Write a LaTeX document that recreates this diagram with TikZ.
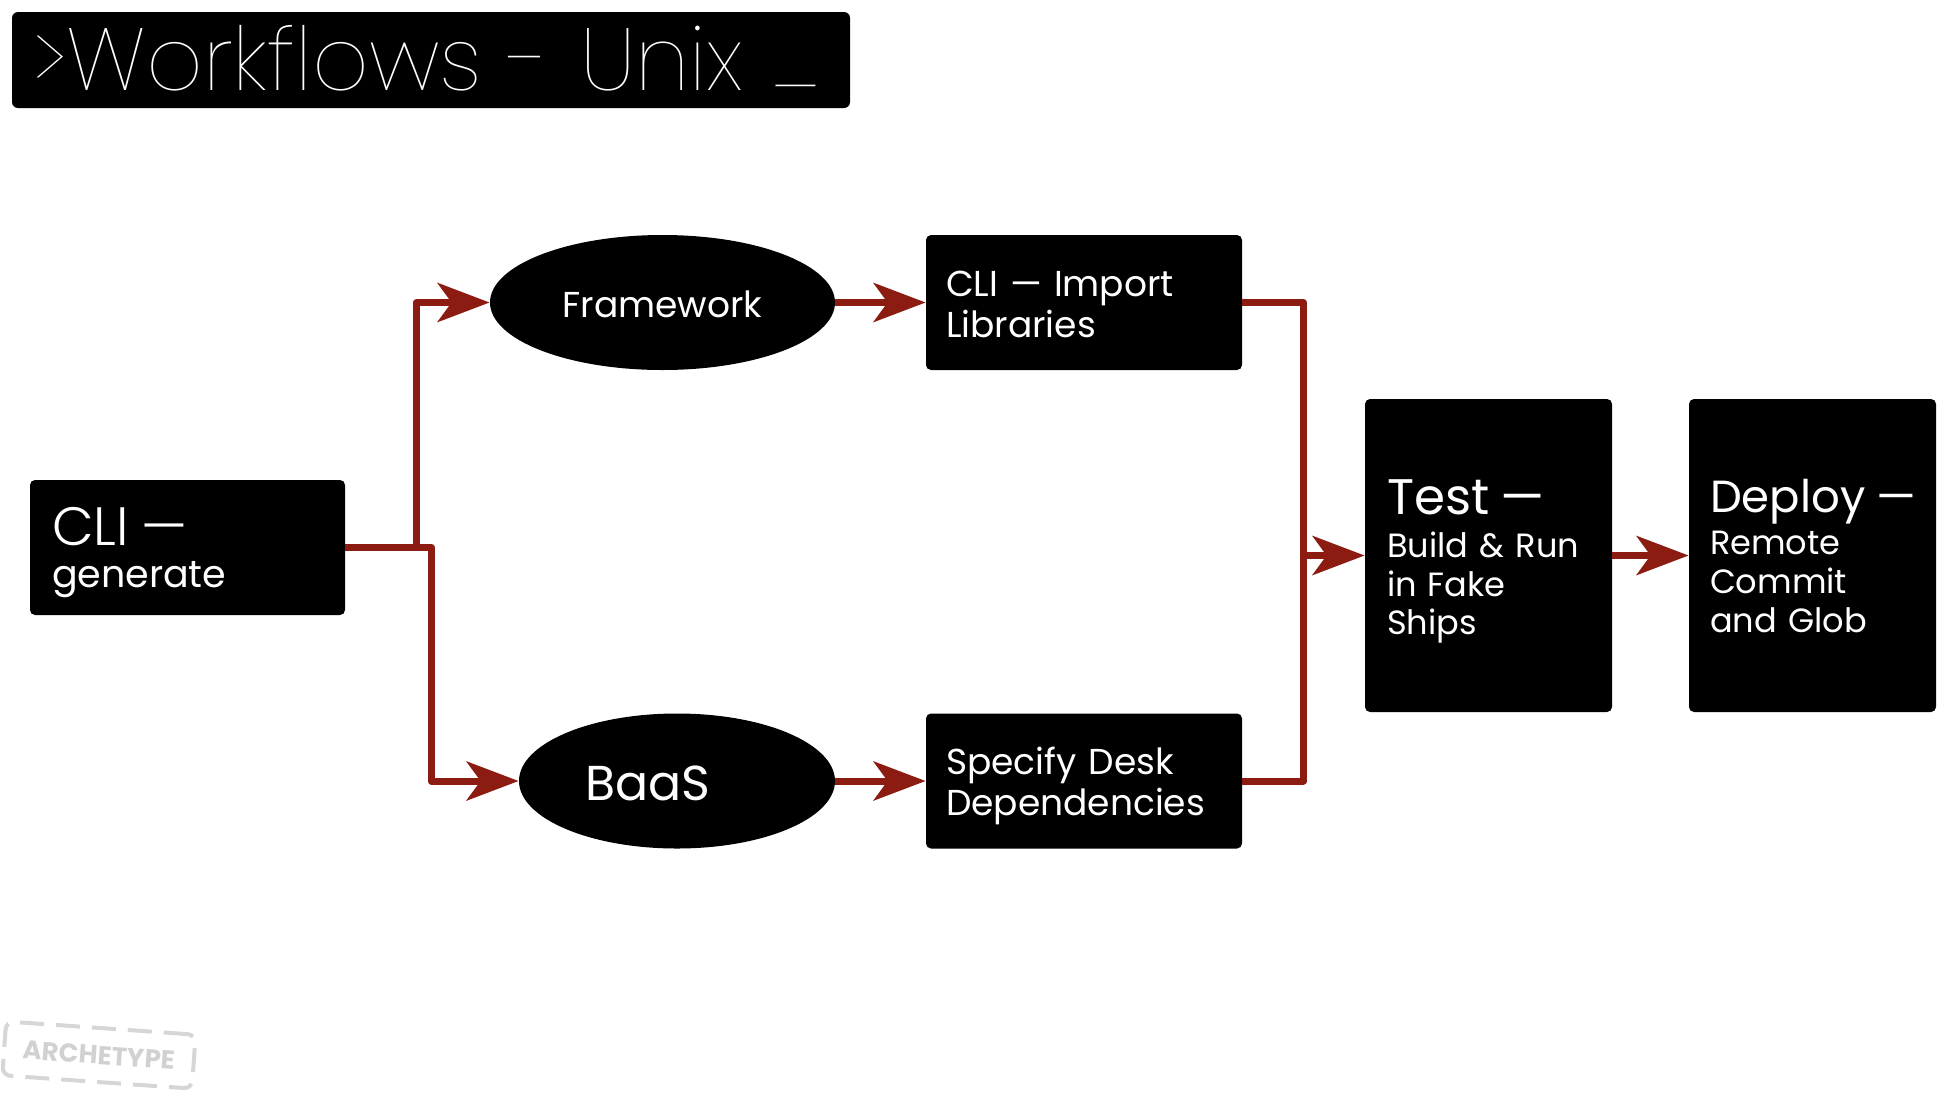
\documentclass[tikz,border=0pt]{standalone}
\usepackage{fontspec}
\setmainfont{Poppins}
\newfontfamily\titlefont{Poppins Thin}
\newfontfamily\lightfont{Poppins Light}
\usetikzlibrary{shapes.geometric,arrows.meta}
\definecolor{conred}{RGB}{140,27,18}
\begin{document}
\begin{tikzpicture}[x=0.5pt,y=-0.5pt,
  blk/.style={fill=black, text=white, inner sep=0pt},
  box/.style={blk, rectangle, rounded corners=2.5pt, align=left, text height=10pt},
  oval/.style={blk, ellipse, minimum height=67.5pt, text depth=0pt},
  conn/.style={draw=conred, line width=3.5pt, line join=round,
    -{Stealth[length=26pt, width=19.5pt, inset=7pt]}},
  plain/.style={draw=conred, line width=3.5pt, line join=round},
  wm/.style={draw=black!16, line width=2pt, dash pattern=on 12pt off 6pt,
    rounded corners=4pt, text=black!18, font=\bfseries\fontsize{13}{13}\selectfont,
    minimum width=95pt, minimum height=27pt, inner sep=0pt}
]
\useasboundingbox (0,0) rectangle (1958,1098);

% title
\node[blk, rectangle, rounded corners=3pt, align=left, minimum width=419pt, minimum height=48pt,
  text width=398pt, text height=30.5pt, text depth=0pt,
  font=\titlefont\fontsize{44}{44}\selectfont]
  (title) at (431,60) {\mbox{>Workflows - Unix \raisebox{4pt}{\_}}};

% boxes
\node[box, minimum width=157.5pt, minimum height=67.5pt, text width=135.5pt,
  text depth=12.5pt, font=\fontsize{19}{21.25}\selectfont]
  (cli) at (187.5,547.5) {\mbox{\lightfont\fontsize{27}{21.25}\selectfont CLI —}\\\mbox{generate}};

\node[oval, minimum width=172.5pt, text height=15pt, font=\fontsize{18}{18}\selectfont]
  (fw) at (662.5,302.5) {Framework};
\node[oval, minimum width=158pt, text height=19pt, font=\fontsize{24.5}{24.5}\selectfont]
  (baas) at (677,781) {BaaS\kern29pt\mbox{}};

\node[box, minimum width=158pt, minimum height=67.5pt, text width=138pt,
  text depth=16.5pt, font=\fontsize{18}{20.75}\selectfont]
  (imp) at (1084,302.5) {\mbox{CLI — Import}\\\mbox{Libraries}};
\node[box, minimum width=158pt, minimum height=67.5pt, text width=138pt,
  text depth=17pt, font=\fontsize{18}{20.5}\selectfont]
  (spec) at (1084,781) {\mbox{Specify Desk}\\\mbox{Dependencies}};

\node[box, minimum width=123.5pt, minimum height=156.5pt, text width=101.5pt,
  text depth=51.5pt, font=\fontsize{16.8}{19.25}\selectfont]
  (test) at (1488.5,555.5) {\mbox{\fontsize{25}{19.25}\selectfont Test —}\\[2.5pt]\mbox{Build \& Run}\\\mbox{in Fake}\\\mbox{Ships}};
\node[box, minimum width=123.5pt, minimum height=156.5pt, text width=102.5pt,
  text depth=53pt, font=\fontsize{16.8}{19.4}\selectfont]
  (dep) at (1812.5,555.5) {\mbox{\fontsize{22.5}{19.4}\selectfont Deploy —}\\[1.8pt]\mbox{Remote}\\\mbox{Commit}\\\mbox{and Glob}};

% connectors
\draw[conn] (cli.east) -- ++(71,0) |- (fw.west);
\draw[conn] (cli.east) -- ++(86,0) |- (baas.west);
\draw[conn] (fw.east) -- (imp.west);
\draw[conn] (baas.east) -- (spec.west);
\draw[plain] (imp.east) -- ++(61,0) coordinate (mtop) |- (spec.east);
\coordinate (mj) at (mtop |- test.west);
\draw[conn] (mj) -- (test.west);
\draw[conn] (test.east) -- (dep.west);

% watermark
\node[wm, rotate=-4] (mark) at (99,1055) {ARCHETYPE};
\end{tikzpicture}
\end{document}
